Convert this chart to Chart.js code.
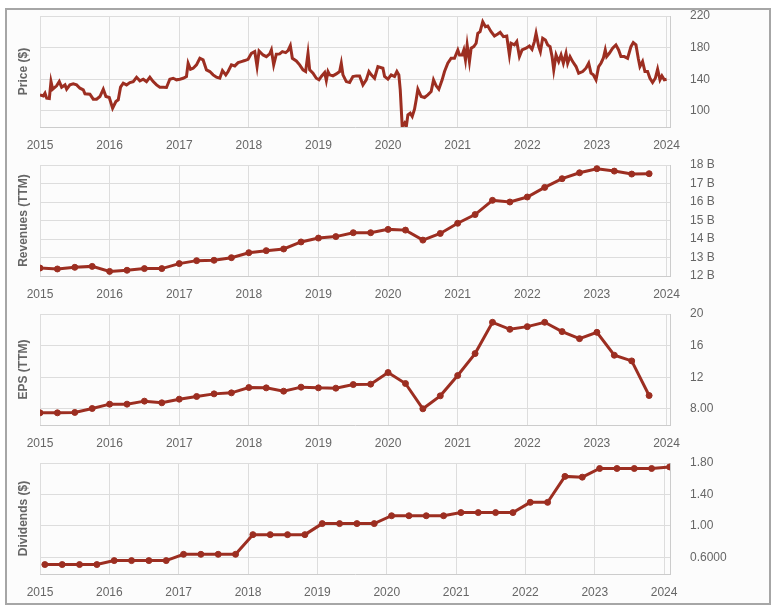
<!DOCTYPE html>
<html lang="en">
<head>
<meta charset="UTF-8">
<title>Price, Revenues, EPS and Dividends</title>
<script src="https://cdn.jsdelivr.net/npm/chart.js@4.4.1/dist/chart.umd.min.js"></script>
<style>
    body { margin: 0; background: #fff; }
    #frame { position: absolute; left: 5px; top: 8px; width: 762px; height: 593px; border: 2px solid #a6a6a6; background: #fcfcfc; }
    canvas { position: absolute; left: 0; }
</style>
</head>
<body>
<div id="frame"></div>
<canvas id="price-chart" width="775" height="150" style="top:6px"></canvas>
<canvas id="revenue-chart" width="775" height="150" style="top:155px"></canvas>
<canvas id="eps-chart" width="775" height="150" style="top:304px"></canvas>
<canvas id="dividend-chart" width="775" height="150" style="top:453px"></canvas>

<script>
// x positions are decimal years
const yearTicks = [2015, 2016, 2017, 2018, 2019, 2020, 2021, 2022, 2023, 2024];

// weekly-ish closing price
const priceYears = [
    2015.000, 2015.048, 2015.072, 2015.096, 2015.134, 2015.158, 2015.182, 2015.239, 2015.277, 2015.311,
    2015.359, 2015.383, 2015.430, 2015.478, 2015.526, 2015.574, 2015.622, 2015.646, 2015.717, 2015.765,
    2015.813, 2015.861, 2015.909, 2015.947, 2015.995, 2016.043, 2016.090, 2016.124, 2016.157, 2016.196,
    2016.243, 2016.291, 2016.339, 2016.387, 2016.435, 2016.483, 2016.530, 2016.578, 2016.626, 2016.674,
    2016.722, 2016.770, 2016.817, 2016.865, 2016.913, 2016.961, 2017.009, 2017.056, 2017.104, 2017.128,
    2017.162, 2017.200, 2017.248, 2017.296, 2017.343, 2017.391, 2017.439, 2017.487, 2017.535, 2017.583,
    2017.621, 2017.669, 2017.702, 2017.750, 2017.798, 2017.846, 2017.893, 2017.941, 2017.989, 2018.037,
    2018.085, 2018.118, 2018.147, 2018.204, 2018.252, 2018.300, 2018.324, 2018.357, 2018.395, 2018.443,
    2018.482, 2018.529, 2018.563, 2018.596, 2018.625, 2018.682, 2018.730, 2018.778, 2018.816, 2018.850,
    2018.874, 2018.922, 2018.969, 2019.008, 2019.041, 2019.089, 2019.113, 2019.137, 2019.161, 2019.208,
    2019.256, 2019.304, 2019.328, 2019.352, 2019.400, 2019.448, 2019.495, 2019.543, 2019.591, 2019.639,
    2019.687, 2019.725, 2019.759, 2019.806, 2019.854, 2019.926, 2019.950, 2019.998, 2020.045, 2020.093,
    2020.127, 2020.155, 2020.175, 2020.203, 2020.237, 2020.261, 2020.285, 2020.318, 2020.347, 2020.380,
    2020.404, 2020.428, 2020.476, 2020.524, 2020.571, 2020.619, 2020.653, 2020.691, 2020.729, 2020.777,
    2020.811, 2020.858, 2020.906, 2020.954, 2021.002, 2021.026, 2021.064, 2021.088, 2021.112, 2021.136,
    2021.169, 2021.193, 2021.231, 2021.265, 2021.289, 2021.322, 2021.360, 2021.399, 2021.432, 2021.480,
    2021.528, 2021.576, 2021.610, 2021.657, 2021.705, 2021.743, 2021.767, 2021.815, 2021.849, 2021.887,
    2021.925, 2021.982, 2022.030, 2022.068, 2022.102, 2022.126, 2022.164, 2022.188, 2022.221, 2022.260,
    2022.293, 2022.327, 2022.356, 2022.380, 2022.413, 2022.451, 2022.485, 2022.518, 2022.556, 2022.580,
    2022.614, 2022.652, 2022.700, 2022.738, 2022.796, 2022.843, 2022.882, 2022.915, 2022.948, 2022.987,
    2023.025, 2023.058, 2023.092, 2023.120, 2023.140, 2023.178, 2023.226, 2023.273, 2023.312, 2023.345,
    2023.393, 2023.441, 2023.489, 2023.522, 2023.561, 2023.594, 2023.618, 2023.656, 2023.690, 2023.728,
    2023.762, 2023.800, 2023.839, 2023.872, 2023.906, 2023.934, 2023.968, 2024.001
];
const priceValues = [
    120.2, 118.9, 122.3, 116.0, 115.6, 137.0, 127.4, 131.6, 137.0, 129.9,
    132.8, 127.4, 132.8, 134.1, 132.8, 128.6, 126.5, 121.5, 121.0, 114.7,
    114.7, 118.1, 127.4, 118.1, 116.8, 103.4, 111.8, 113.9, 129.9, 134.9,
    132.8, 135.8, 137.0, 142.5, 137.9, 140.0, 137.0, 142.5, 137.0, 132.8,
    129.9, 129.9, 129.5, 140.0, 141.2, 139.2, 140.0, 141.2, 143.4, 160.2,
    152.6, 153.9, 158.1, 166.5, 164.4, 151.8, 149.7, 145.5, 142.5, 141.2,
    150.9, 145.5, 149.7, 158.1, 156.8, 161.0, 162.3, 163.6, 165.2, 172.8,
    174.9, 156.0, 175.8, 170.7, 168.6, 172.0, 177.0, 158.1, 171.6, 172.0,
    174.9, 173.7, 176.2, 182.5, 166.5, 163.1, 158.1, 151.8, 149.7, 172.8,
    151.8, 147.6, 141.2, 139.2, 143.4, 148.4, 138.3, 149.7, 145.5, 144.2,
    146.7, 149.7, 160.2, 145.5, 137.0, 135.8, 143.4, 144.2, 144.2, 132.8,
    139.2, 149.7, 145.5, 141.2, 156.0, 153.9, 143.4, 140.0, 145.5, 143.4,
    149.7, 145.5, 126.5, 80.2, 84.4, 79.5, 94.9, 97.0, 92.8, 102.1,
    113.9, 127.4, 118.1, 116.8, 120.2, 124.4, 139.2, 131.6, 127.4, 139.2,
    149.7, 160.2, 166.5, 166.5, 177.0, 170.7, 170.7, 177.0, 164.4, 183.4,
    162.3, 179.2, 181.2, 185.5, 198.1, 200.2, 212.8, 206.5, 207.4, 200.2,
    194.7, 197.3, 199.4, 193.9, 194.7, 170.7, 185.5, 183.4, 187.6, 168.6,
    177.0, 179.2, 182.1, 177.9, 187.6, 198.1, 181.2, 174.9, 191.8, 189.7,
    183.4, 181.2, 168.6, 151.8, 170.7, 162.3, 170.7, 160.2, 172.8, 160.2,
    168.6, 162.3, 156.0, 147.6, 149.7, 153.9, 160.2, 147.6, 145.5, 139.2,
    156.0, 160.2, 166.5, 177.0, 168.6, 172.8, 179.2, 183.4, 177.0, 168.6,
    168.6, 166.5, 181.2, 186.3, 183.4, 166.5, 156.0, 162.3, 149.7, 149.7,
    141.2, 135.8, 141.2, 152.6, 139.2, 144.2, 139.2, 140.0
];
const priceTicks = [100, 140, 180, 220];
const priceTickLabels = ['100', '140', '180', '220'];

// quarterly figures
const quarterYears = [
    2015.00, 2015.25, 2015.50, 2015.75, 2016.00, 2016.25, 2016.50, 2016.75, 2017.00, 2017.25,
    2017.50, 2017.75, 2018.00, 2018.25, 2018.50, 2018.75, 2019.00, 2019.25, 2019.50, 2019.75,
    2020.00, 2020.25, 2020.50, 2020.75, 2021.00, 2021.25, 2021.50, 2021.75, 2022.00, 2022.25,
    2022.50, 2022.75, 2023.00, 2023.25, 2023.50, 2023.75
];
// billions
const revenueValues = [
    12.43, 12.38, 12.47, 12.52, 12.25, 12.31, 12.40, 12.40, 12.67, 12.83,
    12.85, 12.99, 13.26, 13.37, 13.46, 13.84, 14.05, 14.13, 14.34, 14.34,
    14.52, 14.48, 13.94, 14.30, 14.85, 15.32, 16.09, 16.00, 16.27, 16.79,
    17.26, 17.58, 17.80, 17.67, 17.51, 17.53
];
const revenueTicks = [12, 13, 14, 15, 16, 17, 18];
const revenueTickLabels = ['12 B', '13 B', '14 B', '15 B', '16 B', '17 B', '18 B'];

const epsValues = [
    7.49, 7.49, 7.54, 8.04, 8.59, 8.59, 8.97, 8.76, 9.22, 9.56,
    9.89, 10.02, 10.69, 10.65, 10.23, 10.74, 10.65, 10.61, 11.07, 11.12,
    12.59, 11.20, 8.00, 9.64, 12.21, 14.99, 18.95, 18.06, 18.40, 18.95,
    17.77, 16.88, 17.68, 14.78, 14.06, 9.68
];
const epsTicks = [8, 12, 16, 20];
const epsTickLabels = ['8.00', '12', '16', '20'];

const dividendYears = [
    2015.07, 2015.32, 2015.57, 2015.82, 2016.07, 2016.32, 2016.57, 2016.82, 2017.07, 2017.32,
    2017.57, 2017.82, 2018.07, 2018.32, 2018.57, 2018.82, 2019.07, 2019.32, 2019.57, 2019.82,
    2020.07, 2020.32, 2020.57, 2020.82, 2021.07, 2021.32, 2021.57, 2021.82, 2022.07, 2022.32,
    2022.57, 2022.82, 2023.07, 2023.32, 2023.57, 2023.82, 2024.08
];
const dividendValues = [
    0.51, 0.51, 0.51, 0.51, 0.56, 0.56, 0.56, 0.56, 0.64, 0.64,
    0.64, 0.64, 0.89, 0.89, 0.89, 0.89, 1.03, 1.03, 1.03, 1.03,
    1.13, 1.13, 1.13, 1.13, 1.17, 1.17, 1.17, 1.17, 1.30, 1.30,
    1.63, 1.62, 1.73, 1.73, 1.73, 1.73, 1.75
];
const dividendTicks = [0.6, 1.0, 1.4, 1.8];
const dividendTickLabels = ['0.6000', '1.00', '1.40', '1.80'];

const lineColor = '#9c2e21';
const gridColor = '#dddddd';
const axisColor = '#cccccc';
const textColor = '#666666';

Chart.defaults.font.family = '"Liberation Sans", Arial, sans-serif';
Chart.defaults.font.size = 12;

function makePanel(id, p) {
    return new Chart(document.getElementById(id), {
        type: 'line',
        data: {
            datasets: [{
                data: p.xs.map((x, i) => ({ x: x, y: p.ys[i] })),
                borderColor: lineColor,
                backgroundColor: lineColor,
                borderWidth: 3,
                pointRadius: p.points ? 3 : 0,
                pointBorderWidth: 1,
                pointHoverRadius: 0,
                tension: 0,
                yAxisID: 'y'
            }]
        },
        options: {
            responsive: false,
            animation: false,
            devicePixelRatio: 1,
            layout: { padding: { top: 10, left: 0, right: 0, bottom: 0 } },
            plugins: { legend: { display: false }, tooltip: { enabled: false } },
            scales: {
                x: {
                    type: 'linear',
                    min: 2015,
                    max: p.xMax,
                    afterBuildTicks: s => { s.ticks = yearTicks.map(v => ({ value: v })); },
                    afterFit: s => { s.height = 29; },
                    grid: { color: gridColor, drawTicks: false },
                    border: { color: axisColor },
                    ticks: { padding: 11, color: textColor, maxRotation: 0, autoSkip: false, callback: v => String(v) }
                },
                y: {
                    position: 'right',
                    min: p.yMin,
                    max: p.yMax,
                    afterBuildTicks: s => { s.ticks = p.ticks.map(v => ({ value: v })); },
                    // tick padding would otherwise push the plot down
                    afterFit: s => { s.width = 105; s.paddingTop = 0; s.paddingBottom = 0; },
                    grid: { color: gridColor, drawTicks: false },
                    border: { color: axisColor },
                    ticks: { padding: 20, color: textColor, callback: (v, i) => p.tickLabels[i] }
                },
                yLabel: {
                    position: 'left',
                    afterFit: s => { s.width = 40; },
                    grid: { display: false, drawTicks: false },
                    border: { display: false },
                    ticks: { display: false },
                    title: {
                        display: true,
                        text: p.title,
                        color: textColor,
                        font: { size: 12, weight: 'bold' },
                        padding: { top: 16, bottom: 0 }
                    }
                }
            }
        }
    });
}

makePanel('price-chart', {
    xs: priceYears, ys: priceValues, points: false, xMax: 2024.05,
    yMin: 79.5, yMax: 220, ticks: priceTicks, tickLabels: priceTickLabels, title: 'Price ($)'
});
makePanel('revenue-chart', {
    xs: quarterYears, ys: revenueValues, points: true, xMax: 2024.05,
    yMin: 12, yMax: 18, ticks: revenueTicks, tickLabels: revenueTickLabels, title: 'Revenues (TTM)'
});
makePanel('eps-chart', {
    xs: quarterYears, ys: epsValues, points: true, xMax: 2024.05,
    yMin: 5.95, yMax: 20, ticks: epsTicks, tickLabels: epsTickLabels, title: 'EPS (TTM)'
});
makePanel('dividend-chart', {
    xs: dividendYears, ys: dividendValues, points: true, xMax: 2024.085,
    yMin: 0.39, yMax: 1.8, ticks: dividendTicks, tickLabels: dividendTickLabels, title: 'Dividends ($)'
});
</script>
</body>
</html>
